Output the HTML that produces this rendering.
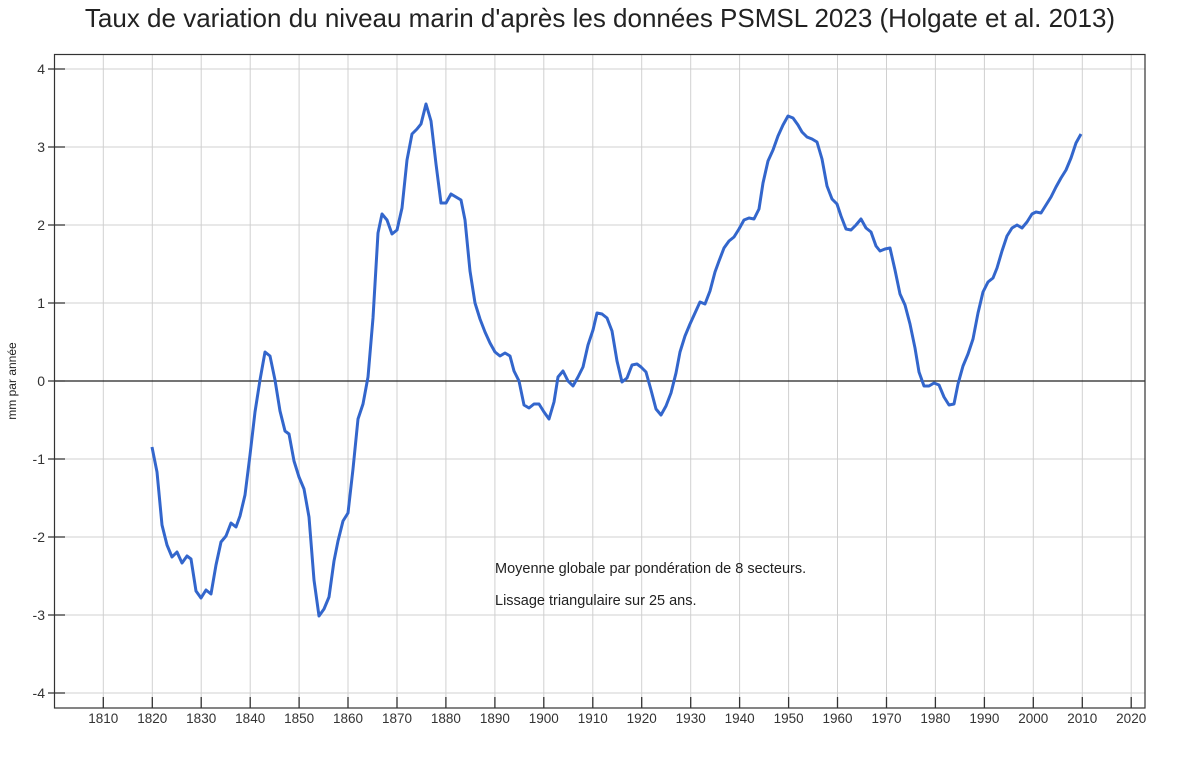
<!DOCTYPE html>
<html><head><meta charset="utf-8"><style>
html,body{margin:0;padding:0;background:#fff;}
svg{display:block;font-family:"Liberation Sans",Arial,sans-serif;}
</style></head><body>
<svg width="1200" height="763" viewBox="0 0 1200 763" xmlns="http://www.w3.org/2000/svg">
<rect width="1200" height="763" fill="#fff"/>
<text x="600" y="27" font-size="26" text-anchor="middle" fill="#222">Taux de variation du niveau marin d'après les données PSMSL 2023 (Holgate et al. 2013)</text>
<g stroke="#d0d0d0" stroke-width="1">
<line x1="103.3" y1="54" x2="103.3" y2="708"/><line x1="152.3" y1="54" x2="152.3" y2="708"/><line x1="201.2" y1="54" x2="201.2" y2="708"/><line x1="250.2" y1="54" x2="250.2" y2="708"/><line x1="299.1" y1="54" x2="299.1" y2="708"/><line x1="348" y1="54" x2="348" y2="708"/><line x1="397" y1="54" x2="397" y2="708"/><line x1="445.9" y1="54" x2="445.9" y2="708"/><line x1="494.9" y1="54" x2="494.9" y2="708"/><line x1="543.8" y1="54" x2="543.8" y2="708"/><line x1="592.8" y1="54" x2="592.8" y2="708"/><line x1="641.7" y1="54" x2="641.7" y2="708"/><line x1="690.7" y1="54" x2="690.7" y2="708"/><line x1="739.6" y1="54" x2="739.6" y2="708"/><line x1="788.6" y1="54" x2="788.6" y2="708"/><line x1="837.5" y1="54" x2="837.5" y2="708"/><line x1="886.5" y1="54" x2="886.5" y2="708"/><line x1="935.4" y1="54" x2="935.4" y2="708"/><line x1="984.4" y1="54" x2="984.4" y2="708"/><line x1="1033.3" y1="54" x2="1033.3" y2="708"/><line x1="1082.3" y1="54" x2="1082.3" y2="708"/><line x1="1131.2" y1="54" x2="1131.2" y2="708"/>
<line x1="55" y1="69" x2="1145" y2="69"/><line x1="55" y1="147" x2="1145" y2="147"/><line x1="55" y1="225" x2="1145" y2="225"/><line x1="55" y1="303" x2="1145" y2="303"/><line x1="55" y1="459" x2="1145" y2="459"/><line x1="55" y1="537" x2="1145" y2="537"/><line x1="55" y1="615" x2="1145" y2="615"/><line x1="55" y1="693" x2="1145" y2="693"/>
</g>
<line x1="55" y1="381" x2="1145" y2="381" stroke="#222" stroke-width="1.3"/>
<rect x="54.5" y="54.5" width="1090.5" height="653.5" fill="none" stroke="#333" stroke-width="1.2"/>
<g stroke="#333" stroke-width="1.3">
<line x1="48" y1="69" x2="65" y2="69"/><line x1="48" y1="147" x2="65" y2="147"/><line x1="48" y1="225" x2="65" y2="225"/><line x1="48" y1="303" x2="65" y2="303"/><line x1="48" y1="381" x2="65" y2="381"/><line x1="48" y1="459" x2="65" y2="459"/><line x1="48" y1="537" x2="65" y2="537"/><line x1="48" y1="615" x2="65" y2="615"/><line x1="48" y1="693" x2="65" y2="693"/>
</g>
<g stroke="#333" stroke-width="1.3">
<line x1="103.3" y1="697" x2="103.3" y2="708"/><line x1="152.3" y1="697" x2="152.3" y2="708"/><line x1="201.2" y1="697" x2="201.2" y2="708"/><line x1="250.2" y1="697" x2="250.2" y2="708"/><line x1="299.1" y1="697" x2="299.1" y2="708"/><line x1="348" y1="697" x2="348" y2="708"/><line x1="397" y1="697" x2="397" y2="708"/><line x1="445.9" y1="697" x2="445.9" y2="708"/><line x1="494.9" y1="697" x2="494.9" y2="708"/><line x1="543.8" y1="697" x2="543.8" y2="708"/><line x1="592.8" y1="697" x2="592.8" y2="708"/><line x1="641.7" y1="697" x2="641.7" y2="708"/><line x1="690.7" y1="697" x2="690.7" y2="708"/><line x1="739.6" y1="697" x2="739.6" y2="708"/><line x1="788.6" y1="697" x2="788.6" y2="708"/><line x1="837.5" y1="697" x2="837.5" y2="708"/><line x1="886.5" y1="697" x2="886.5" y2="708"/><line x1="935.4" y1="697" x2="935.4" y2="708"/><line x1="984.4" y1="697" x2="984.4" y2="708"/><line x1="1033.3" y1="697" x2="1033.3" y2="708"/><line x1="1082.3" y1="697" x2="1082.3" y2="708"/><line x1="1131.2" y1="697" x2="1131.2" y2="708"/>
</g>
<g font-size="14" fill="#333" text-anchor="end">
<text x="45" y="74">4</text><text x="45" y="152">3</text><text x="45" y="230">2</text><text x="45" y="308">1</text><text x="45" y="386">0</text><text x="45" y="464">-1</text><text x="45" y="542">-2</text><text x="45" y="620">-3</text><text x="45" y="698">-4</text>
</g>
<g font-size="13.5" fill="#333" text-anchor="middle">
<text x="103.3" y="723">1810</text><text x="152.3" y="723">1820</text><text x="201.2" y="723">1830</text><text x="250.2" y="723">1840</text><text x="299.1" y="723">1850</text><text x="348" y="723">1860</text><text x="397" y="723">1870</text><text x="445.9" y="723">1880</text><text x="494.9" y="723">1890</text><text x="543.8" y="723">1900</text><text x="592.8" y="723">1910</text><text x="641.7" y="723">1920</text><text x="690.7" y="723">1930</text><text x="739.6" y="723">1940</text><text x="788.6" y="723">1950</text><text x="837.5" y="723">1960</text><text x="886.5" y="723">1970</text><text x="935.4" y="723">1980</text><text x="984.4" y="723">1990</text><text x="1033.3" y="723">2000</text><text x="1082.3" y="723">2010</text><text x="1131.2" y="723">2020</text>
</g>
<text transform="translate(16,381) rotate(-90)" font-size="12" fill="#222" text-anchor="middle">mm par année</text>
<text x="495" y="573" font-size="14.5" fill="#222">Moyenne globale par pondération de 8 secteurs.</text>
<text x="495" y="605" font-size="14.5" fill="#222">Lissage triangulaire sur 25 ans.</text>
<polyline fill="none" stroke="#3366cc" stroke-width="3" stroke-linejoin="round" points="152,447 157,472 162,525 167,545 172,557 177,552 182,563 187,556 191,559 196,591 201,598 206,590 211,594 216,565 221,542 226,536 231,523 236,527 240,516 245,495 250,455 255,412 260,380 265,352 270,356 275,380 280,411 285,431 289,434 294,461 299,477 304,489 309,517 314,580 319,616 324,609 329,597 334,561 338,541 343,521 348,513 353,469 358,419 363,404 368,377 373,318 378,233 382,214 387,220 392,234 397,230 402,208 407,160 412,134 417,129 421,124 426,104 431,121 436,164 441,203 446,203 451,194 456,197 461,200 465,220 470,271 475,303 480,319 485,332 490,343 495,352 500,356 505,353 510,356 514,371 519,381 524,405 529,408 534,404 539,404 544,412 549,419 554,402 558,377 563,371 568,381 573,386 578,377 583,367 588,345 593,330 597,313 602,314 607,318 612,331 617,361 622,382 627,378 632,365 637,364 641,367 646,372 651,390 656,409 661,415 666,406 671,393 676,373 680,352 685,336 690,324 695,313 700,302 705,304 710,291 715,272 719,261 724,248 729,241 734,237 739,229 744,220 749,218 754,219 759,209 763,183 768,161 773,150 778,136 783,125 788,116 793,118 798,125 802,132 807,137 812,139 817,142 822,159 827,186 832,199 837,204 841,216 846,229 851,230 856,225 861,219 866,228 871,232 876,246 880,251 885,249 890,248 895,270 900,294 905,305 910,324 915,348 919,372 924,386 929,386 934,383 939,385 944,397 949,405 954,404 958,384 963,366 968,354 973,339 978,313 983,292 988,282 993,278 997,268 1002,251 1007,236 1012,228 1017,225 1022,228 1027,222 1032,214 1036,212 1041,213 1046,205 1051,197 1056,187 1061,178 1066,170 1071,158 1076,143 1081,134"/>
</svg>
</body></html>
